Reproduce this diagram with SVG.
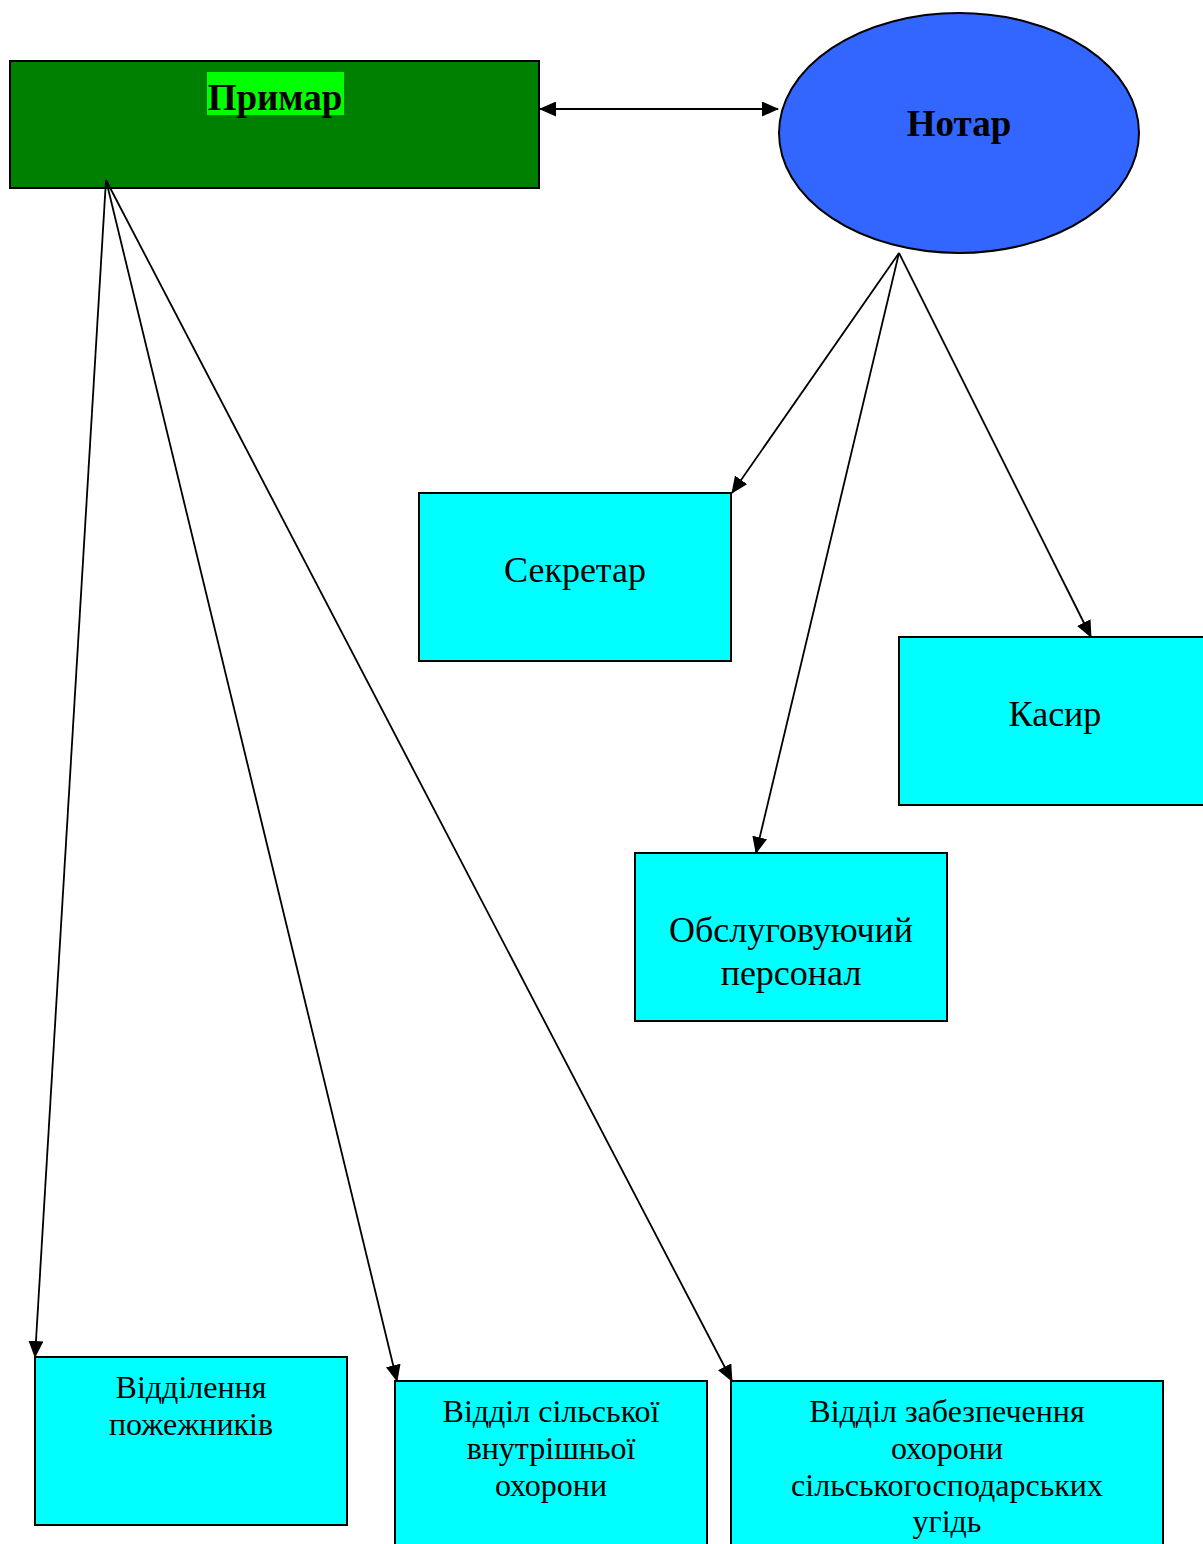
<svg xmlns="http://www.w3.org/2000/svg" width="1203" height="1544" viewBox="0 0 1203 1544">
<style>
.box{fill:#00FFFF;stroke:#000;stroke-width:2}
.t{font-family:"Liberation Serif","Times New Roman",serif;fill:#000;text-anchor:middle}
.tm{font-size:36px}
.tb{font-size:32px}
.hd{font-size:37px;font-weight:bold}
.con{stroke:#000;stroke-width:1.8;fill:none}
</style>
<defs>
<marker id="ah" markerUnits="userSpaceOnUse" markerWidth="17" markerHeight="15" refX="16" refY="7.5" orient="auto-start-reverse" viewBox="0 0 17 15">
<path d="M0,0 L17,7.5 L0,15 Z" fill="#000"/>
</marker>
</defs>
<rect width="1203" height="1544" fill="#fff"/>
<g id="primar">
<rect x="10" y="61" width="529" height="127" fill="#008000" stroke="#000" stroke-width="2"/>
<rect x="207" y="72" width="137" height="43" fill="#00FF00"/>
<text class="t hd" x="275" y="110">Примар</text>
</g>
<g id="notar">
<ellipse cx="959" cy="133" rx="180" ry="120" fill="#3366FF" stroke="#000" stroke-width="2"/>
<text class="t hd" x="959" y="136">Нотар</text>
</g>
<g id="sekretar">
<rect class="box" x="419" y="493" width="312" height="168"/>
<text class="t tm" x="575" y="582">Секретар</text>
</g>
<g id="kasyr">
<rect class="box" x="899" y="637" width="310" height="168"/>
<text class="t tm" x="1055" y="726">Касир</text>
</g>
<g id="personal">
<rect class="box" x="635" y="853" width="312" height="168"/>
<text class="t tm" x="791" y="942">Обслуговуючий</text>
<text class="t tm" x="791" y="985">персонал</text>
</g>
<g id="pozhezhnyky">
<rect class="box" x="35" y="1357" width="312" height="168"/>
<text class="t tb" x="191" y="1398">Відділення</text>
<text class="t tb" x="191" y="1435">пожежників</text>
</g>
<g id="okhorona">
<rect class="box" x="395" y="1381" width="312" height="175"/>
<text class="t tb" x="551" y="1422">Відділ сільської</text>
<text class="t tb" x="551" y="1459">внутрішньої</text>
<text class="t tb" x="551" y="1496">охорони</text>
</g>
<g id="ugiddia">
<rect class="box" x="731" y="1381" width="432" height="175"/>
<text class="t tb" x="947" y="1422">Відділ забезпечення</text>
<text class="t tb" x="947" y="1459">охорони</text>
<text class="t tb" x="947" y="1496">сільськогосподарських</text>
<text class="t tb" x="947" y="1532">угідь</text>
</g>
<g id="connectors">
<line class="con" x1="540" y1="109" x2="778" y2="109" marker-start="url(#ah)" marker-end="url(#ah)"/>
<line class="con" x1="899" y1="253" x2="732" y2="493" marker-end="url(#ah)"/>
<line class="con" x1="899" y1="253" x2="756" y2="853" marker-end="url(#ah)"/>
<line class="con" x1="899" y1="253" x2="1091" y2="637" marker-end="url(#ah)"/>
<line class="con" x1="106" y1="180" x2="35" y2="1357" marker-end="url(#ah)"/>
<line class="con" x1="106" y1="180" x2="397" y2="1381" marker-end="url(#ah)"/>
<line class="con" x1="106" y1="180" x2="732" y2="1381" marker-end="url(#ah)"/>
</g>
</svg>
